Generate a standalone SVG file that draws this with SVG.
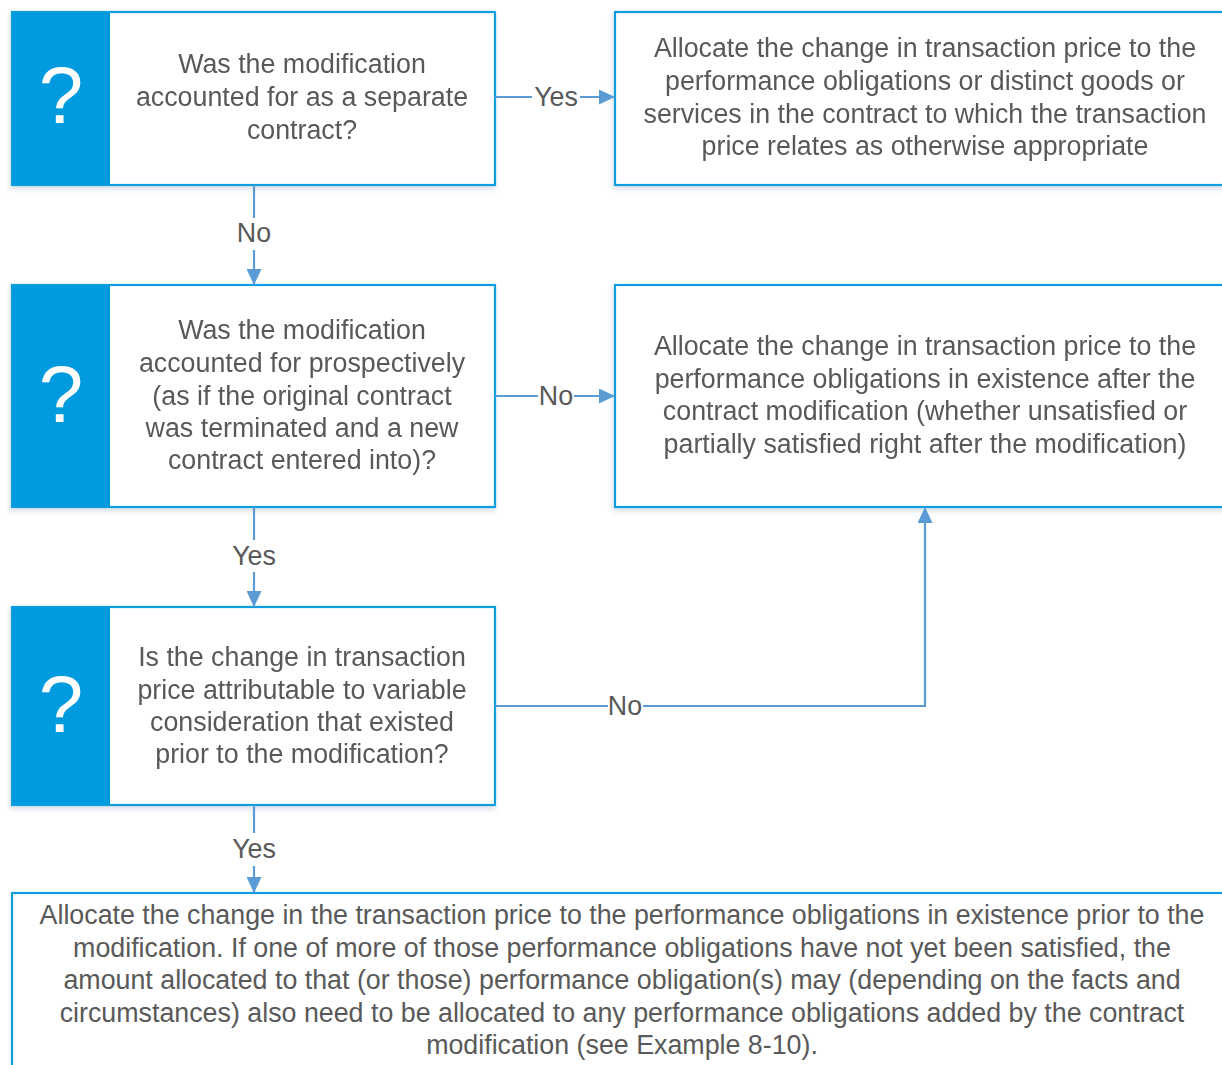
<svg xmlns="http://www.w3.org/2000/svg" width="1222" height="1065" viewBox="0 0 1222 1065">
  <style>
    .box { fill: #ffffff; stroke: #0E9EE0; stroke-width: 2.2; }
    .side { fill: #009ADE; }
    .q { fill: #ffffff; font-family: "Liberation Sans", Arial, sans-serif; font-size: 80px; text-anchor: middle; }
    .t { fill: #595959; font-family: "Liberation Sans", Arial, sans-serif; font-size: 26.8px; text-anchor: middle; }
    .lbl { fill: #595959; font-family: "Liberation Sans", Arial, sans-serif; font-size: 26.8px; text-anchor: middle; }
    .wire { fill: none; stroke: #5B9BD5; stroke-width: 2.2; }
  </style>
  <defs>
    <filter id="shadow" x="-5%" y="-5%" width="110%" height="115%">
      <feDropShadow dx="-1" dy="3" stdDeviation="2.5" flood-color="#1F4E79" flood-opacity="0.18"/>
    </filter>
    <marker id="arrow" viewBox="0 0 16 15" refX="16" refY="7.5" markerWidth="16" markerHeight="15" markerUnits="userSpaceOnUse" orient="auto">
      <path d="M0,0 L16,7.5 L0,15 Z" fill="#5B9BD5"/>
    </marker>
  </defs>
  <rect width="1222" height="1065" fill="#ffffff"/>

  <!-- Decision 1 -->
  <g id="q1" filter="url(#shadow)">
    <rect class="box" x="12" y="12" width="483" height="173"/>
    <rect class="side" x="12" y="12" width="98" height="173"/>
    <text class="q" x="61" y="123">?</text>
    <text class="t" x="302" y="73">Was the modification</text>
    <text class="t" x="302" y="106">accounted for as a separate</text>
    <text class="t" x="302" y="139">contract?</text>
  </g>

  <!-- Outcome: separate contract -->
  <g id="r1" filter="url(#shadow)">
    <rect class="box" x="615" y="12" width="620" height="173"/>
    <text class="t" x="925" y="57">Allocate the change in transaction price to the</text>
    <text class="t" x="925" y="90">performance obligations or distinct goods or</text>
    <text class="t" x="925" y="123">services in the contract to which the transaction</text>
    <text class="t" x="925" y="155">price relates as otherwise appropriate</text>
  </g>

  <!-- Decision 2 -->
  <g id="q2" filter="url(#shadow)">
    <rect class="box" x="12" y="285" width="483" height="222"/>
    <rect class="side" x="12" y="285" width="98" height="222"/>
    <text class="q" x="61" y="422">?</text>
    <text class="t" x="302" y="339">Was the modification</text>
    <text class="t" x="302" y="372">accounted for prospectively</text>
    <text class="t" x="302" y="405">(as if the original contract</text>
    <text class="t" x="302" y="437">was terminated and a new</text>
    <text class="t" x="302" y="469">contract entered into)?</text>
  </g>

  <!-- Outcome: existing obligations after modification -->
  <g id="r2" filter="url(#shadow)">
    <rect class="box" x="615" y="285" width="620" height="222"/>
    <text class="t" x="925" y="355">Allocate the change in transaction price to the</text>
    <text class="t" x="925" y="388">performance obligations in existence after the</text>
    <text class="t" x="925" y="420">contract modification (whether unsatisfied or</text>
    <text class="t" x="925" y="453">partially satisfied right after the modification)</text>
  </g>

  <!-- Decision 3 -->
  <g id="q3" filter="url(#shadow)">
    <rect class="box" x="12" y="607" width="483" height="198"/>
    <rect class="side" x="12" y="607" width="98" height="198"/>
    <text class="q" x="61" y="732">?</text>
    <text class="t" x="302" y="666">Is the change in transaction</text>
    <text class="t" x="302" y="699">price attributable to variable</text>
    <text class="t" x="302" y="731">consideration that existed</text>
    <text class="t" x="302" y="763">prior to the modification?</text>
  </g>

  <!-- Outcome: obligations prior to modification -->
  <g id="r3">
    <rect class="box" x="12" y="893" width="1230" height="200"/>
    <text class="t" x="622" y="924">Allocate the change in the transaction price to the performance obligations in existence prior to the</text>
    <text class="t" x="622" y="957">modification. If one of more of those performance obligations have not yet been satisfied, the</text>
    <text class="t" x="622" y="989">amount allocated to that (or those) performance obligation(s) may (depending on the facts and</text>
    <text class="t" x="622" y="1022">circumstances) also need to be allocated to any performance obligations added by the contract</text>
    <text class="t" x="622" y="1054">modification (see Example 8-10).</text>
  </g>

  <!-- Connectors -->
  <g id="connectors">
    <path class="wire" d="M495,97 H532"/>
    <path class="wire" d="M580,97 H615" marker-end="url(#arrow)"/>
    <text class="lbl" x="556" y="106">Yes</text>

    <path class="wire" d="M254,185 V218"/>
    <path class="wire" d="M254,250 V285" marker-end="url(#arrow)"/>
    <text class="lbl" x="254" y="242">No</text>

    <path class="wire" d="M495,396 H538"/>
    <path class="wire" d="M574,396 H615" marker-end="url(#arrow)"/>
    <text class="lbl" x="556" y="405">No</text>

    <path class="wire" d="M254,507 V540"/>
    <path class="wire" d="M254,572 V607" marker-end="url(#arrow)"/>
    <text class="lbl" x="254" y="565">Yes</text>

    <path class="wire" d="M495,706 H608"/>
    <path class="wire" d="M643,706 H925 V507" marker-end="url(#arrow)"/>
    <text class="lbl" x="625" y="715">No</text>

    <path class="wire" d="M254,805 V833"/>
    <path class="wire" d="M254,866 V893" marker-end="url(#arrow)"/>
    <text class="lbl" x="254" y="858">Yes</text>
  </g>
</svg>
